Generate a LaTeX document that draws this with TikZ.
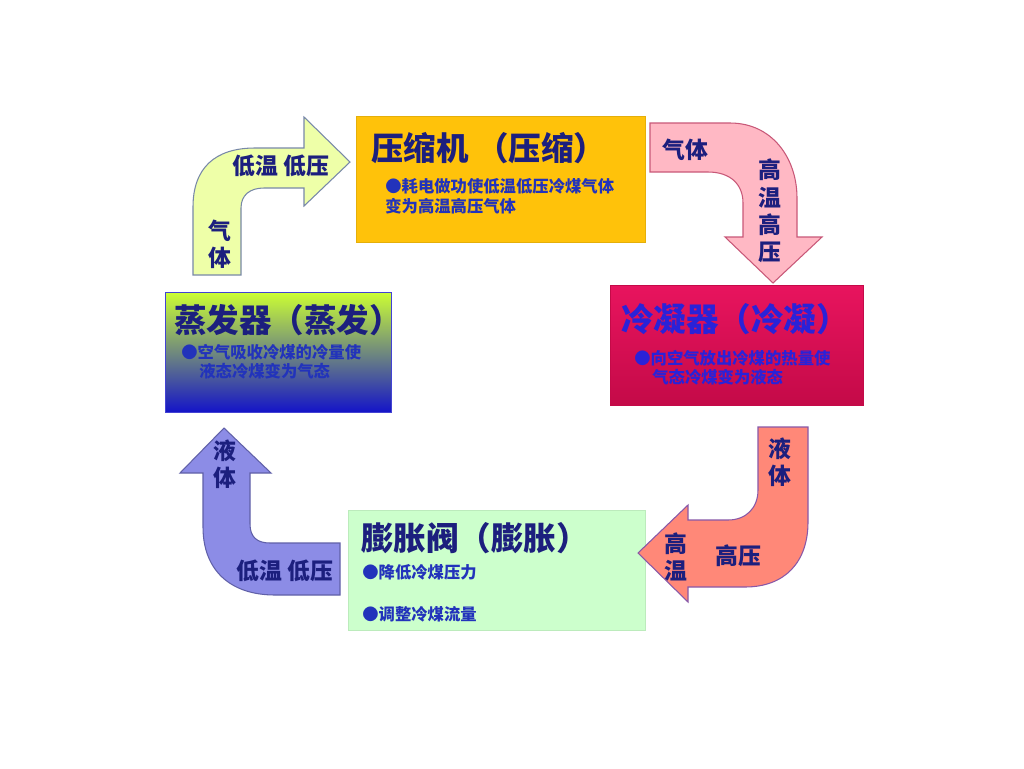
\documentclass[tikz,border=0pt]{standalone}
\usepackage{fontspec}
\setmainfont{Noto Sans CJK SC}
\definecolor{navy}{HTML}{1C1F7E}
\definecolor{bodyblue}{HTML}{2233BB}
\definecolor{brightblue}{HTML}{2A22D8}
\definecolor{compfill}{HTML}{FFC20A}
\definecolor{expfill}{HTML}{CCFFCC}
\definecolor{condtop}{HTML}{E8145E}
\definecolor{condbot}{HTML}{C40A48}
\definecolor{evtop}{HTML}{CCFF33}
\definecolor{evmid}{HTML}{A8D090}
\definecolor{evbot}{HTML}{1414C8}
\definecolor{a1fill}{HTML}{EEFFA8}
\definecolor{a1line}{HTML}{7888A8}
\definecolor{a2fill}{HTML}{FFB8C4}
\definecolor{a2line}{HTML}{C85878}
\definecolor{a3fill}{HTML}{FF8878}
\definecolor{a3line}{HTML}{8858A8}
\definecolor{a4fill}{HTML}{8C8CE6}
\definecolor{a4line}{HTML}{6060A8}
\begin{document}
\begin{tikzpicture}[x=0.02cm,y=-0.02cm,
  box/.style={rectangle, inner sep=0pt, line width=0.3pt},
  ttl/.style={anchor=west, inner sep=0pt, font=\fontsize{18.5}{22}\selectfont\bfseries, text=navy},
  body/.style={anchor=west, inner sep=0pt, font=\fontsize{9.3}{11}\selectfont\bfseries, text=bodyblue},
  lbl/.style={inner sep=0pt, font=\fontsize{13}{15.5}\selectfont\bfseries, text=navy, align=center},
  arr/.style={line width=0.6pt, line join=miter}]
\path[use as bounding box, fill=white] (0,0) rectangle (1024,768);

% boxes
\node[box, fill=compfill, draw=compfill!90!black, minimum width=5.78cm, minimum height=2.52cm] (comp) at (500.5,179) {};
\node[box, top color=condtop, bottom color=condbot, draw=condbot, minimum width=5.06cm, minimum height=2.4cm] (cond) at (736.5,345) {};
\node[box, top color=evtop, middle color=evmid, bottom color=evbot, draw=evbot!80!white, minimum width=4.52cm, minimum height=2.4cm] (evap) at (278,352) {};
\node[box, fill=expfill, draw=expfill!92!black, minimum width=5.94cm, minimum height=2.4cm] (expv) at (496.5,570) {};

% arrows
\draw[arr, fill=a1fill, draw=a1line] (193,275) -- (193,207) .. controls (193,168) and (215,148) .. (255,148) -- (304,148) -- (304,117) -- (350,162) -- (304,206) -- (304,188) -- (264,188) .. controls (250,188) and (241,195) .. (241,208) -- (241,275) -- cycle;
\draw[arr, fill=a2fill, draw=a2line] (650,123) -- (730,123) .. controls (772,123) and (797,158) .. (797,198) -- (797,237) -- (822,237) -- (773,283) -- (725,237) -- (743,237) -- (743,203) .. controls (743,184) and (730,172) .. (708,172) -- (650,172) -- cycle;
\draw[arr, fill=a3fill, draw=a3line] (758,427) -- (808,427) -- (808,522) .. controls (808,562) and (785,587) .. (745,587) -- (688,587) -- (688,602) -- (638,553) -- (688,505) -- (688,520) -- (728,520) .. controls (746,520) and (758,508) .. (758,490) -- cycle;
\draw[arr, fill=a4fill, draw=a4line] (340,595) -- (275,595) .. controls (230,595) and (203,570) .. (203,527) -- (203,473) -- (180,473) -- (224,428) -- (271,473) -- (250,473) -- (250,524) .. controls (250,537) and (257,543) .. (270,543) -- (340,543) -- cycle;

% titles
\node[ttl] (compT) at (371,148) {压缩机 （压缩）};
\node[ttl, text=brightblue] (condT) at (621,319) {冷凝器（冷凝）};
\node[ttl] (evapT) at (174,320) {蒸发器（蒸发）};
\node[ttl] (expvT) at (361,538) {膨胀阀（膨胀）};

% body texts
\node[body] (comp1) at (385,186) {●耗电做功使低温低压冷煤气体};
\node[body] (comp2) at (385,206) {变为高温高压气体};
\node[body, text=brightblue] (cond1) at (634,358) {●向空气放出冷煤的热量使};
\node[body, text=brightblue] (cond2) at (652,377) {气态冷煤变为液态};
\node[body] (evap1) at (181,352) {●空气吸收冷煤的冷量使};
\node[body] (evap2) at (199,371) {液态冷煤变为气态};
\node[body] (expv1) at (362,572) {●降低冷煤压力};
\node[body] (expv2) at (362,614) {●调整冷煤流量};

% arrow labels
\node[lbl] (l1a) at (281,166) {低温 低压};
\node[lbl] (l1b) at (220,244) {气\\体};
\node[lbl] (l2a) at (685,150) {气体};
\node[lbl] (l2b) at (770,211) {高\\温\\高\\压};
\node[lbl] (l3a) at (780,462) {液\\体};
\node[lbl] (l3b) at (676,557) {高\\温};
\node[lbl] (l3c) at (738,556) {高压};
\node[lbl] (l4a) at (225,464) {液\\体};
\node[lbl] (l4b) at (285,571) {低温 低压};
\end{tikzpicture}
\end{document}
